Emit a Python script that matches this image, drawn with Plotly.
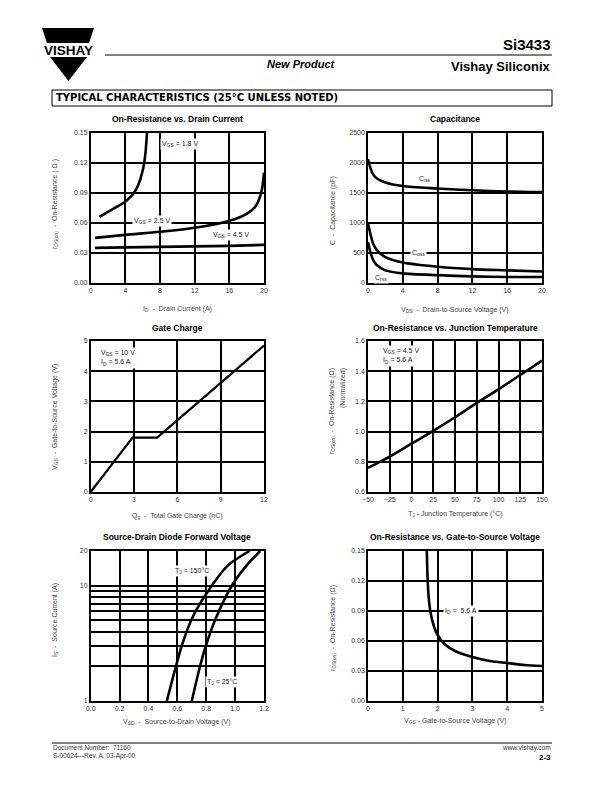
import plotly.graph_objects as go

# ---------------- data ----------------
# Chart 1: On-Resistance vs Drain Current
id_18 = [1, 2, 3, 4, 4.5, 5, 5.5, 6, 6.3, 6.5]
rds_18 = [0.066, 0.071, 0.076, 0.081, 0.085, 0.090, 0.098, 0.112, 0.128, 0.150]
id_25 = [0.5, 4, 8, 12, 16, 18, 19, 19.5, 19.8, 20]
rds_25 = [0.045, 0.048, 0.051, 0.055, 0.062, 0.069, 0.076, 0.085, 0.095, 0.110]
id_45 = [0.5, 4, 8, 12, 16, 20]
rds_45 = [0.035, 0.0355, 0.036, 0.0365, 0.037, 0.038]

# Chart 2: Capacitance
vds_c = [0, 0.3, 0.6, 1, 2, 4, 8, 12, 16, 20]
ciss = [2060, 1900, 1800, 1740, 1670, 1610, 1570, 1540, 1520, 1510]
coss = [1000, 800, 650, 550, 430, 340, 270, 230, 210, 190]
crss = [680, 500, 380, 300, 210, 160, 130, 110, 100, 100]

# Chart 3: Gate Charge
qg = [0, 2.9, 4.6, 12]
vgs_q = [0, 1.8, 1.8, 4.85]

# Chart 4: On-Resistance vs Junction Temperature
tj = [-50, -25, 0, 25, 50, 75, 100, 125, 150]
rds_norm = [0.76, 0.835, 0.92, 1.005, 1.095, 1.19, 1.28, 1.375, 1.47]

# Chart 5: Source-Drain Diode Forward Voltage
vsd_150 = [0.527, 0.59, 0.63, 0.695, 0.757, 0.787, 0.838, 0.95, 1.10]
is_150 = [1, 2, 3, 5, 7, 8, 10, 15, 20]
vsd_25 = [0.70, 0.757, 0.797, 0.86, 0.977, 1.08, 1.173]
is_25 = [1, 2, 3, 5, 10, 15, 20]

# Chart 6: On-Resistance vs Gate-to-Source Voltage
vgs_r = [1.69, 1.71, 1.74, 1.80, 1.90, 2.0, 2.2, 2.5, 3.0, 3.5, 4.0, 4.5, 5.0]
rds_v = [0.150, 0.125, 0.105, 0.088, 0.074, 0.066, 0.057, 0.050, 0.044, 0.040, 0.038, 0.036, 0.035]

# tick values
t1x = [0, 4, 8, 12, 16, 20]; t1y = [0, 0.03, 0.06, 0.09, 0.12, 0.15]
t2x = [0, 4, 8, 12, 16, 20]; t2y = [0, 500, 1000, 1500, 2000, 2500]
t3x = [0, 3, 6, 9, 12]; t3y = [0, 1, 2, 3, 4, 5]
t4x = [-50, -25, 0, 25, 50, 75, 100, 125, 150]; t4y = [0.6, 0.8, 1.0, 1.2, 1.4, 1.6]
t5x = [0.0, 0.2, 0.4, 0.6, 0.8, 1.0, 1.2]
t5y = [1, 2, 3, 4, 5, 6, 7, 8, 9, 10, 20]
t5y_text = ["1", "", "", "", "", "", "", "", "", "10", "20"]
t6x = [0, 1, 2, 3, 4, 5]; t6y = [0, 0.03, 0.06, 0.09, 0.12, 0.15]

W, H = 612, 792
FONT = "Liberation Sans, Arial, sans-serif"
NARROW = "Liberation Sans Narrow, Liberation Sans, Arial, sans-serif"
WIDE = "DejaVu Sans, Verdana, sans-serif"

def px(x):
    return x / W

def py(y):
    return 1 - y / H

LX = [px(90.7), px(264)]
RX = [px(368), px(542)]
R1 = [py(283), py(132.5)]
R2 = [py(492), py(341)]
R3 = [py(701), py(551)]

fig = go.Figure()

def line(x, y, xa, ya, w=2.6, shape="spline"):
    fig.add_trace(go.Scatter(x=x, y=y, xaxis=xa, yaxis=ya, mode="lines",
                             line=dict(color="black", width=w, shape=shape, smoothing=0.8),
                             showlegend=False, hoverinfo="skip"))

line(id_18, rds_18, "x", "y")
line(id_25, rds_25, "x", "y")
line(id_45, rds_45, "x", "y")
line(vds_c, ciss, "x2", "y2")
line(vds_c, coss, "x2", "y2")
line(vds_c, crss, "x2", "y2")
line(qg, vgs_q, "x3", "y3", w=2.2, shape="linear")
line(tj, rds_norm, "x4", "y4")
line(vsd_150, is_150, "x5", "y5")
line(vsd_25, is_25, "x5", "y5")
line(vgs_r, rds_v, "x6", "y6")

def axis(domain, anchor, rng, tickvals, fmt=None, ticktext=None, typ="linear"):
    d = dict(domain=domain, anchor=anchor, range=rng, type=typ, automargin=False,
             showline=True, mirror=True, linecolor="black", linewidth=1.5,
             showgrid=True, gridcolor="black", gridwidth=1.5, zeroline=False,
             ticks="", tickvals=tickvals, tickfont=dict(family=FONT, size=7, color="#333"),
             fixedrange=True)
    if fmt:
        d["tickformat"] = fmt
    if ticktext:
        d["ticktext"] = ticktext
    return d

layout = dict(
    width=W, height=H, margin=dict(l=0, r=0, t=0, b=0, pad=0, autoexpand=False),
    paper_bgcolor="white", plot_bgcolor="white", showlegend=False,
    xaxis=axis(LX, "y", [0, 20], t1x),
    yaxis=axis(R1, "x", [0, 0.15], t1y, ".2f"),
    xaxis2=axis(RX, "y2", [0, 20], t2x),
    yaxis2=axis(R1, "x2", [0, 2500], t2y),
    xaxis3=axis(LX, "y3", [0, 12], t3x),
    yaxis3=axis(R2, "x3", [0, 5], t3y),
    xaxis4=axis(RX, "y4", [-50, 150], t4x),
    yaxis4=axis(R2, "x4", [0.6, 1.6], t4y, ".1f"),
    xaxis5=axis(LX, "y5", [0, 1.2], t5x, ".1f"),
    yaxis5=axis(R3, "x5", [0, 1.30103], t5y, ticktext=t5y_text, typ="log"),
    xaxis6=axis(RX, "y6", [0, 5], t6x),
    yaxis6=axis(R3, "x6", [0, 0.15], t6y, ".2f"),
)
fig.update_layout(**layout)

ann = []

def note(text, x, y, xref, yref, size=7, color="#222", bg="white", xanchor="left", yanchor="middle",
         align="left"):
    ann.append(dict(text=text, x=x, y=y, xref=xref, yref=yref, showarrow=False, align=align,
                    font=dict(family=FONT, size=size, color=color), bgcolor=bg,
                    xanchor=xanchor, yanchor=yanchor, borderpad=1))

# in-chart labels
note("V<sub>GS</sub> = 1.8 V", 8.0, 0.139, "x", "y")
note("V<sub>GS</sub> = 2.5 V", 4.8, 0.062, "x", "y")
note("V<sub>GS</sub> = 4.5 V", 13.9, 0.048, "x", "y")
note("C<sub>iss</sub>", 5.6, 1730, "x2", "y2")
note("C<sub>oss</sub>", 4.8, 500, "x2", "y2")
note("C<sub>rss</sub>", 0.6, 80, "x2", "y2")
note("V<sub>DS</sub> = 10 V<br>I<sub>D</sub> = 5.6 A", 0.55, 4.45, "x3", "y3")
note("V<sub>GS</sub> = 4.5 V<br>I<sub>D</sub> = 5.6 A", -35, 1.5, "x4", "y4")
note("T<sub>J</sub> = 150°C", 0.57, 1.128, "x5", "y5")
note("T<sub>J</sub> = 25°C", 0.79, 0.168, "x5", "y5")
note("I<sub>D</sub> =  5.6 A", 2.15, 0.09, "x6", "y6")

# chart titles
titles = [("On-Resistance vs. Drain Current", 177, 119),
          ("Capacitance", 455, 119),
          ("Gate Charge", 177, 328),
          ("On-Resistance vs. Junction Temperature", 455, 328),
          ("Source-Drain Diode Forward Voltage", 177, 537),
          ("On-Resistance vs. Gate-to-Source Voltage", 455, 537)]
for t, x, y in titles:
    ann.append(dict(text="<b>" + t + "</b>", x=px(x), y=py(y), xref="paper", yref="paper",
                    showarrow=False, font=dict(family=NARROW, size=8.5, color="black"),
                    xanchor="center", yanchor="middle"))

# x-axis titles
xt = [("I<sub>D</sub>  -  Drain Current (A)", 177, 309),
      ("V<sub>DS</sub>  -  Drain-to-Source Voltage (V)", 455, 310),
      ("Q<sub>g</sub>  -  Total Gate Charge (nC)", 177, 516),
      ("T<sub>J</sub> - Junction Temperature (°C)", 455, 514),
      ("V<sub>SD</sub>  -  Source-to-Drain Voltage (V)", 177, 722),
      ("V<sub>GS</sub> - Gate-to-Source Voltage (V)", 455, 721)]
for t, x, y in xt:
    ann.append(dict(text=t, x=px(x), y=py(y), xref="paper", yref="paper", showarrow=False,
                    font=dict(family=FONT, size=7, color="#444"), xanchor="center", yanchor="middle"))

# y-axis titles (rotated)
yt = [("r<sub>DS(on)</sub>  -  On-Resistance ( Ω )", 55, 204),
      ("C  -  Capacitance (pF)", 333, 211),
      ("V<sub>GS</sub>  -  Gate-to-Source Voltage (V)", 55, 417),
      ("I<sub>S</sub>  -  Source Current (A)", 55, 620),
      ("r<sub>DS(on)</sub>  -  On-Resistance (Ω)", 333, 628)]
for t, x, y in yt:
    ann.append(dict(text=t, x=px(x), y=py(y), xref="paper", yref="paper", showarrow=False,
                    textangle=-90, font=dict(family=FONT, size=7, color="#444"),
                    xanchor="center", yanchor="middle"))
ann.append(dict(text="r<sub>DS(on)</sub>  -  On-Resistance (Ω)", x=px(332), y=py(366), xref="paper",
                yref="paper", showarrow=False, textangle=-90,
                font=dict(family=FONT, size=7, color="#444"), xanchor="center", yanchor="top"))
ann.append(dict(text="(Normalized)", x=px(343), y=py(366), xref="paper", yref="paper",
                showarrow=False, textangle=-90, font=dict(family=FONT, size=7, color="#444"),
                xanchor="center", yanchor="top"))

# header
ann.append(dict(text="<b>Si3433</b>", x=px(553), y=py(45), xref="paper", yref="paper",
                showarrow=False, font=dict(family=NARROW, size=15, color="black"),
                xanchor="right", yanchor="middle"))
ann.append(dict(text="<b>Vishay Siliconix</b>", x=px(553), y=py(66), xref="paper", yref="paper",
                showarrow=False, font=dict(family=NARROW, size=13, color="black"),
                xanchor="right", yanchor="middle"))
ann.append(dict(text="<b><i>New Product</i></b>", x=px(301), y=py(64), xref="paper", yref="paper",
                showarrow=False, font=dict(family=NARROW, size=11, color="black"),
                xanchor="center", yanchor="middle"))
ann.append(dict(text="<b>VISHAY</b>", x=px(68), y=py(50), xref="paper", yref="paper",
                showarrow=False, font=dict(family=FONT, size=13.5, color="black"),
                xanchor="center", yanchor="middle"))
ann.append(dict(text="<b>TYPICAL CHARACTERISTICS (25°C UNLESS NOTED)</b>", x=px(54), y=py(98),
                xref="paper", yref="paper", showarrow=False,
                font=dict(family=WIDE, size=10, color="black"), xanchor="left", yanchor="middle"))
# footer
ann.append(dict(text="Document Number:  71160<br>S-00624—Rev. A, 03-Apr-00", x=px(51), y=py(752),
                xref="paper", yref="paper", showarrow=False, align="left",
                font=dict(family=FONT, size=6.5, color="#333"), xanchor="left", yanchor="middle"))
ann.append(dict(text="www.vishay.com", x=px(553), y=py(748), xref="paper", yref="paper",
                showarrow=False, font=dict(family=FONT, size=6.5, color="#333"),
                xanchor="right", yanchor="middle"))
ann.append(dict(text="<b>2-3</b>", x=px(553), y=py(757), xref="paper", yref="paper",
                showarrow=False, font=dict(family=NARROW, size=8, color="black"),
                xanchor="right", yanchor="middle"))

fig.update_layout(annotations=ann)

def ppath(pts):
    return "M " + " L ".join(f"{px(a):.5f},{py(b):.5f}" for a, b in pts) + " Z"

shapes = [
    dict(type="path", xref="paper", yref="paper", path=ppath([(42, 28), (94, 28), (89, 43), (47, 43)]),
         fillcolor="black", line=dict(width=0)),
    dict(type="path", xref="paper", yref="paper", path=ppath([(50, 57), (87, 57), (68.5, 81)]),
         fillcolor="black", line=dict(width=0)),
    dict(type="line", xref="paper", yref="paper", x0=px(105), x1=px(552), y0=py(55), y1=py(55),
         line=dict(color="black", width=1)),
    dict(type="rect", xref="paper", yref="paper", x0=px(52), x1=px(552), y0=py(90), y1=py(106),
         line=dict(color="black", width=1), fillcolor="rgba(0,0,0,0)"),
    dict(type="line", xref="paper", yref="paper", x0=px(52), x1=px(552), y0=py(743), y1=py(743),
         line=dict(color="black", width=1)),
]
fig.update_layout(shapes=shapes)

fig.write_html("out.html")
